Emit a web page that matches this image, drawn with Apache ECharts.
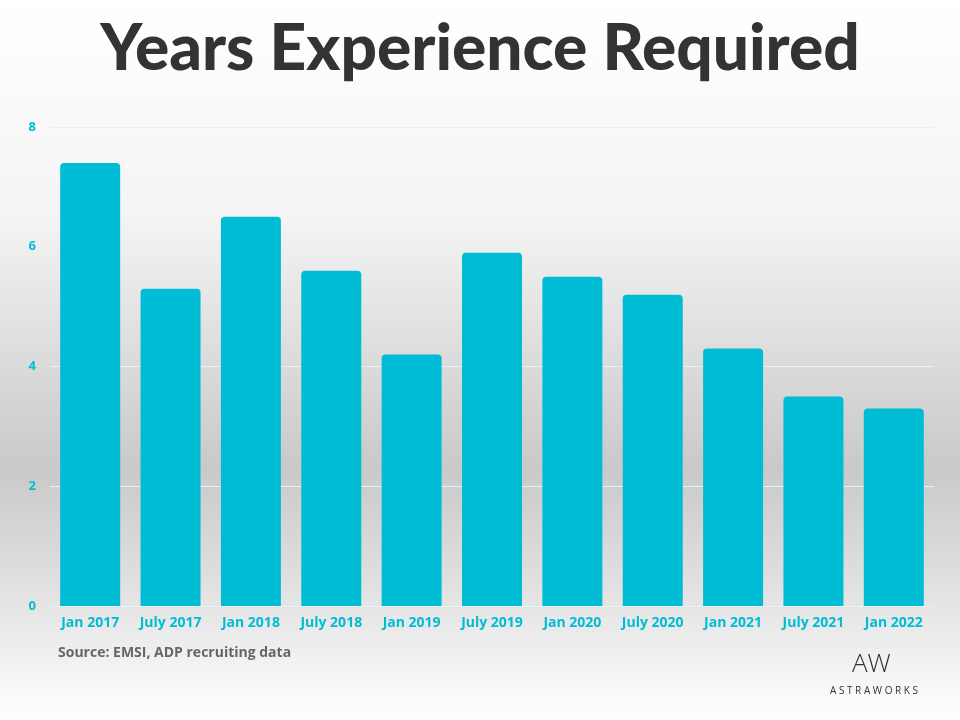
<!DOCTYPE html>
<html><head><meta charset="utf-8">
<script src="https://cdn.jsdelivr.net/npm/echarts@6/dist/echarts.min.js"></script>
<style>html,body{margin:0;padding:0}#chart{width:960px;height:720px}</style>
</head><body><div id="chart"></div>
<script>
var categories = ['Jan 2017','July 2017','Jan 2018','July 2018','Jan 2019','July 2019','Jan 2020','July 2020','Jan 2021','July 2021','Jan 2022'];
var years = [7.4, 5.3, 6.5, 5.6, 4.2, 5.9, 5.5, 5.2, 4.3, 3.5, 3.3];
var yTicks = [0, 2, 4, 6, 8];

var cyan = '#00bcd4';
var chart = echarts.init(document.getElementById('chart'));
chart.setOption({
  backgroundColor: {
    type: 'linear', x: 0, y: 0, x2: 0, y2: 1,
    colorStops: [
      {offset: 0, color: '#ffffff'},
      {offset: 0.3, color: '#f4f4f4'},
      {offset: 0.65, color: '#c9c9c9'},
      {offset: 0.85, color: '#e6e6e6'},
      {offset: 1, color: '#ffffff'}
    ]
  },
  title: {
    text: 'Years Experience Required',
    left: 'center', top: 12,
    textStyle: {fontFamily: 'Lato', fontWeight: 900, fontSize: 64, color: '#333333'}
  },
  grid: {left: 50, right: 26, top: 127, bottom: 114},
  xAxis: {
    type: 'category', data: categories,
    axisLine: {show: false}, axisTick: {show: false},
    axisLabel: {color: cyan, fontFamily: 'Open Sans', fontWeight: 'bold', fontSize: 14, margin: 10, interval: 0}
  },
  yAxis: {
    type: 'value', min: 0, max: 8, interval: 2,
    axisLabel: {color: cyan, fontFamily: 'Open Sans', fontWeight: 'bold', fontSize: 13, margin: 14,
      formatter: function (v) { return yTicks.indexOf(v) >= 0 ? String(v) : ''; }},
    splitLine: {lineStyle: {color: '#e3f3f6'}}
  },
  series: [{
    type: 'bar', data: years, barWidth: 60,
    itemStyle: {color: cyan, borderRadius: [4, 4, 0, 0]}
  }],
  graphic: [
    {type: 'text', left: 58, top: 646,
      style: {text: 'Source: EMSI, ADP recruiting data', fill: '#666', font: 'bold 14px "Open Sans"'}},
    {type: 'text', left: 852, top: 652,
      style: {text: 'AW', fill: '#333', font: '300 26px "Open Sans"'}},
    {type: 'text', left: 830, top: 686,
      style: {text: 'A S T R A W O R K S', fill: '#333', font: '10px "Open Sans"'}}
  ]
});
</script></body></html>
